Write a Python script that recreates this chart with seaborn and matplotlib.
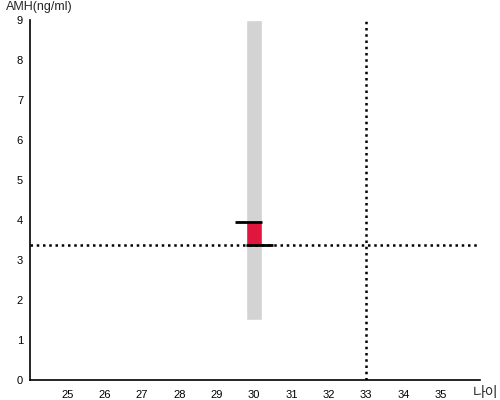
import matplotlib
matplotlib.use("Agg")
import matplotlib.pyplot as plt
import seaborn as sns
import pandas as pd

# data
age = [30]
range_low = [1.5]
range_high = [9.0]
amh_low = [3.38]
amh_high = [3.94]
ref_age = 33
ref_amh = 3.38
x_ticks = list(range(25, 36))
y_ticks = list(range(0, 10))

sns.set_theme(style="white")
plt.rcParams['font.family'] = ['Liberation Sans', 'Noto Sans CJK KR', 'DejaVu Sans']

df = pd.DataFrame({"age": age, "low": range_low, "high": range_high,
                   "amh_low": amh_low, "amh_high": amh_high})

fig = plt.figure(figsize=(5, 4), dpi=100)
ax = fig.add_axes([0.06, 0.05, 0.90, 0.90])

# grey normal range band
ax.bar(df["age"], df["high"] - df["low"], bottom=df["low"], width=0.42,
       color="#d3d3d3", zorder=1)
# red measured value
ax.bar(df["age"], df["amh_high"] - df["amh_low"], bottom=df["amh_low"], width=0.42,
       color="#e0163f", zorder=2)
# black caps
ax.hlines(df["amh_high"], df["age"] - 0.5, df["age"] + 0.21, color="black", lw=2, zorder=3)
ax.hlines(df["amh_low"], df["age"] - 0.21, df["age"] + 0.5, color="black", lw=2, zorder=3)

# dotted reference lines
ax.axhline(ref_amh, color="black", ls=(0, (1, 1.5)), lw=1.8, zorder=4)
ax.axvline(ref_age, color="black", ls=(0, (1, 1.5)), lw=1.8, zorder=4)

ax.set_xlim(24, 36.05)
ax.set_ylim(0, 9)
ax.set_xticks(x_ticks)
ax.set_yticks(y_ticks)
ax.tick_params(axis="both", labelsize=8, length=3, width=1, colors="black",
               direction="out", pad=2)
ax.tick_params(axis="x", pad=4)
sns.despine(ax=ax)
for s in ["left", "bottom"]:
    ax.spines[s].set_color("black")
    ax.spines[s].set_linewidth(1.2)

fig.text(0.012, 0.997, "AMH(ng/ml)", fontsize=9, ha="left", va="top")
fig.text(0.946, 0.018, "나이", fontsize=10, ha="left", va="center")

fig.savefig("out.png", dpi=100)
